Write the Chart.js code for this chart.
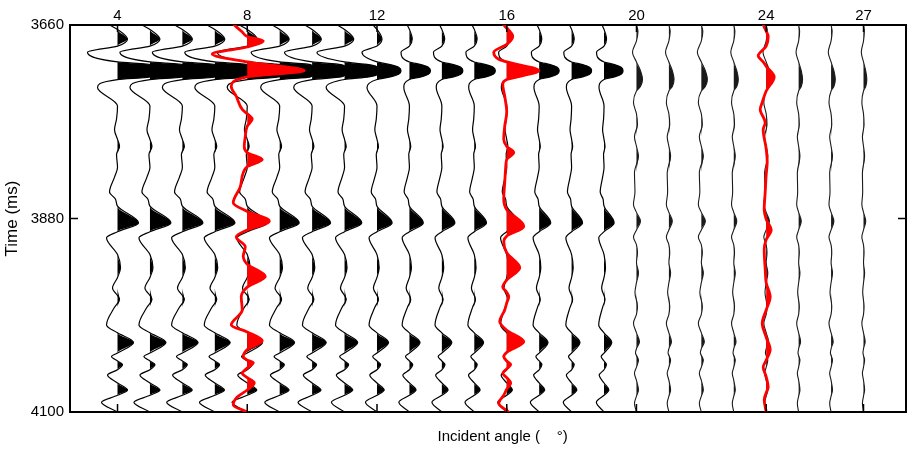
<!DOCTYPE html>
<html>
<head>
<meta charset="utf-8">
<title>Incident angle gather</title>
<script src="https://cdn.jsdelivr.net/npm/chart.js@4.4.0/dist/chart.umd.min.js"></script>
<style>
  body { margin: 0; background: #fff; }
  #grafico { display: block; }
</style>
</head>
<body>
<canvas id="grafico" width="912" height="449"></canvas>
<script>
// ---------- data ----------
const xTickLabels = [4, 8, 12, 16, 20, 24, 27];
const yTickLabels = [3660, 3880, 4100];

// synthetic traces 4..19 (black), sampled at the wiggle extrema (ms)
const nearAngles = [4, 5, 6, 7, 8, 9, 10, 11, 12, 13, 14, 15, 16, 17, 18, 19];
const nearTimes = [3660, 3665, 3676, 3684, 3691, 3702, 3705, 3708, 3712, 3716,
                   3719, 3722, 3731, 3752, 3767, 3779, 3790, 3798, 3807, 3822,
                   3833, 3850, 3858, 3866, 3885, 3895, 3902, 3921, 3936, 3947,
                   3959, 3972, 3981, 4001, 4010, 4021, 4033, 4037, 4042, 4046,
                   4052, 4058, 4067, 4075, 4081, 4089, 4100];
// side lobes of the top event, main top lobe (normalised), deeper events
const sideShape = [-8, 0, 10, 0, -30, 0, 0, 0, 0, 0, 0, 0, -20, 0, 0, 0, 0, 0, 0, 0,
                   0, 0, 0, 0, 0, 0, 0, 0, 0, 0, 0, 0, 0, 0, 0, 0, 0, 0, 0, 0,
                   0, 0, 0, 0, 0, 0, 0];
const mainShape = [0, 0, 0, 0, 0, 0, 0.55, 0.9, 1, 0.9, 0.55, 0, 0, 0, 0, 0, 0, 0, 0, 0,
                   0, 0, 0, 0, 0, 0, 0, 0, 0, 0, 0, 0, 0, 0, 0, 0, 0, 0, 0, 0,
                   0, 0, 0, 0, 0, 0, 0];
const deepShape = [0, 0, 0, 0, 0, 0, 0, 0, 0, 0, 0, 0, 0, 0, -1, -3, 0, 2, -1, 0,
                   -3, -8, -2, 0, 21, 0, -11, 0, 3, 0, -5, 2, -3, -11, 0, 16, 0, -6, 0, 5,
                   0, -10, 0, 10, 0, -16, 0];
const mainPeak = [62, 62, 60, 60, 58, 56, 52, 44, 24, 21, 21, 21, 21, 20, 20, 19];
const sideGain = [1, 1, 1, 1, 1, 0.95, 0.92, 0.92, 0.5, 0.28, 0.28, 0.28, 0.27, 0.26, 0.26, 0.25];
const deepGain = [1, 1, 0.98, 0.96, 0.95, 0.93, 0.88, 0.82, 0.72, 0.66, 0.62, 0.58, 0.56, 0.55, 0.52, 0.48];

// synthetic traces 20..27 (black, weak)
const farAngles = [20, 21, 22, 23, 24, 25, 26, 27];
const farTimes = [3660, 3667, 3678, 3691, 3702, 3712, 3722, 3730, 3735, 3748,
                  3761, 3773, 3787, 3798, 3809, 3828, 3850, 3864, 3873, 3883,
                  3893, 3901, 3910, 3919, 3930, 3942, 3953, 3964, 3980, 3989,
                  3999, 4010, 4020, 4028, 4033, 4041, 4049, 4056, 4064, 4075,
                  4082, 4090, 4100];
const farShape = [0, 1.5, 0, -4, 0, 4, 6, 4, 0, -3,
                  0, 1, -2, 0, 2, -2, -1.5, -3, 0, 4,
                  0, -3, 0, 1, 0, 2, 0, -1.5, 1, 0,
                  -3, 0, 3, 0, -1, 2, 0, -2, 0, 2,
                  0, -2, 0];
const farGain = [1, 0.85, 1, 0.75, 0.8, 0.65, 0.7, 0.55];

// red traces at 8, 16 and 24 degrees
const red8Times = [3660, 3668, 3673, 3678, 3685, 3693, 3702, 3712, 3719, 3730,
                   3741, 3756, 3761, 3767, 3775, 3787, 3798, 3805, 3813, 3821,
                   3828, 3844, 3862, 3872, 3883, 3893, 3901, 3912, 3923, 3932,
                   3946, 3958, 3969, 3984, 4001, 4009, 4019, 4029, 4037, 4041,
                   4044, 4050, 4056, 4061, 4067, 4075, 4083, 4092, 4100];
const red8Amp = [-13, -5, 0, 16, 0, -35, 0, 57, 0, -16,
                 -11, -5, 0, 5, 0, -2, -3, 0, 15, 0,
                 -4, -7, -14, 0, 22, 0, -11, -2, -4, 0,
                 18, 0, -6, -5, -16, 0, 15, 0, -4, 0,
                 6, 0, -5, 0, 7, 0, -10, -14, 0];
const red16Times = [3660, 3673, 3682, 3691, 3699, 3702, 3712, 3722, 3727, 3741,
                    3759, 3775, 3790, 3798, 3805, 3813, 3821, 3839, 3858, 3870,
                    3889, 3900, 3906, 3919, 3936, 3950, 3958, 3964, 3969, 3976,
                    3984, 3997, 4007, 4020, 4032, 4037, 4042, 4046, 4051, 4056,
                    4061, 4067, 4074, 4081, 4090, 4100];
const red16Amp = [-3, 6, 0, -13, -8, 0, 32, 0, -4, -2,
                  0, -2, -3, 0, 7, 0, -1, -2, -3, 0,
                  17, 0, -3, 0, 13, 0, -4, 0, 2, 0,
                  -2, -7, 0, 17, 0, -3, 0, 4, 0, -4,
                  0, 4, 0, -3, -8, 2];
const red24Times = [3660, 3667, 3673, 3684, 3695, 3702, 3707, 3719, 3735, 3748,
                    3756, 3771, 3779, 3801, 3816, 3830, 3850, 3870, 3881, 3893,
                    3904, 3915, 3938, 3953, 3969, 3984, 3999, 4015, 4029, 4041,
                    4049, 4060, 4072, 4078, 4086, 4100];
const red24Amp = [-3, 0, 2, 0, -8, -3, 0, 8, 0, -4,
                  -6, -1, -3, 0, 1, 0, -1, -2, 0, 5,
                  0, -2, -1, 0, 4, 0, -4, 0, 4, 0,
                  -3, 0, 2, 0, -2, 0];

// ---------- display settings ----------
const ampToDeg = 1 / 32.4;   // amplitude units -> degrees of offset
const clipAmp = 33;          // black traces are clipped at about one trace spacing
const fuente = "'Liberation Sans', Arial, sans-serif";

let datasets = [];

// each trace = one filled dataset (positive part) + one wiggle line
function agregarTraza(angulo, tiempos, amps, color, ancho, orden, recortar) {
  let linea = [];
  let relleno = [];
  for (let i = 0; i < tiempos.length; i++) {
    let a = amps[i];
    if (recortar) a = Math.min(a, clipAmp);
    linea.push({ x: angulo + a * ampToDeg, y: tiempos[i] });
    relleno.push({ x: angulo + Math.max(a, 0) * ampToDeg, y: tiempos[i] });
  }
  datasets.push({
    data: relleno, xAxisID: "x", yAxisID: "y",
    fill: { value: angulo }, backgroundColor: color,
    borderColor: "rgba(0,0,0,0)", borderWidth: 0, order: orden + 1
  });
  datasets.push({
    data: linea, xAxisID: "x", yAxisID: "y",
    fill: false, borderColor: color, borderWidth: ancho, order: orden
  });
}

nearAngles.forEach((ang, n) => {
  let amps = nearTimes.map((t, i) =>
    sideShape[i] * sideGain[n] + mainShape[i] * mainPeak[n] + deepShape[i] * deepGain[n]);
  agregarTraza(ang, nearTimes, amps, "#000", 1.2, 2, true);
});

farAngles.forEach((ang, n) => {
  let amps = farShape.map(v => v * farGain[n]);
  agregarTraza(ang, farTimes, amps, "#1a1a1a", 1.1, 2, true);
});

agregarTraza(8, red8Times, red8Amp, "#ff0000", 2.8, 0, false);
agregarTraza(16, red16Times, red16Amp, "#ff0000", 2.8, 0, false);
agregarTraza(24, red24Times, red24Amp, "#ff0000", 2.8, 0, false);

// short tick marks pointing into the plot, like the original
const marcasInternas = {
  id: "marcasInternas",
  afterDatasetsDraw(chart) {
    const ctx = chart.ctx;
    const area = chart.chartArea;
    const sx = chart.scales.x;
    const sy = chart.scales.y;
    ctx.save();
    ctx.strokeStyle = "#000";
    ctx.lineWidth = 1.5;
    ctx.beginPath();
    xTickLabels.forEach(v => {
      const px = sx.getPixelForValue(v);
      ctx.moveTo(px, area.top); ctx.lineTo(px, area.top + 7);
      ctx.moveTo(px, area.bottom); ctx.lineTo(px, area.bottom - 8);
    });
    yTickLabels.forEach(v => {
      const py = sy.getPixelForValue(v);
      ctx.moveTo(area.left, py); ctx.lineTo(area.left + 8, py);
      ctx.moveTo(area.right, py); ctx.lineTo(area.right - 8, py);
    });
    ctx.stroke();
    ctx.restore();
  }
};

const xMin = 2.535, xMax = 28.31;
const borde = { display: true, color: "#000", width: 2 };
const sinRejilla = { display: false, drawTicks: false };
const ticksX = s => { s.ticks = xTickLabels.map(v => ({ value: v })); };
const ticksY = s => { s.ticks = yTickLabels.map(v => ({ value: v })); };
const sinComas = v => String(v);

new Chart("grafico", {
  type: "line",
  data: { datasets: datasets },
  plugins: [marcasInternas],
  options: {
    indexAxis: "y",
    responsive: false,
    animation: false,
    events: [],
    layout: { padding: 0 },
    elements: {
      point: { radius: 0 },
      line: { cubicInterpolationMode: "monotone", borderJoinStyle: "round", borderCapStyle: "round" }
    },
    plugins: { legend: { display: false }, tooltip: { enabled: false } },
    scales: {
      x: {
        type: "linear", position: "top", min: xMin, max: xMax,
        afterBuildTicks: ticksX,
        afterFit: s => { s.height = 25; },
        grid: sinRejilla, border: borde,
        ticks: { color: "#000", font: { family: fuente, size: 15 }, padding: 0,
                 autoSkip: false, maxRotation: 0, callback: sinComas }
      },
      x2: {
        type: "linear", position: "bottom", min: xMin, max: xMax,
        afterBuildTicks: ticksX,
        afterFit: s => { s.height = 37; },
        grid: sinRejilla, border: borde,
        ticks: { display: false },
        title: {
          display: true, text: "       Incident angle (    °)", color: "#000",
          font: { family: fuente, size: 15 }, padding: { top: 0, bottom: 3 }
        }
      },
      y: {
        type: "linear", position: "left", reverse: true, min: 3660, max: 4100,
        afterBuildTicks: ticksY,
        afterFit: s => { s.width = 70; },
        grid: sinRejilla, border: borde,
        ticks: { color: "#000", font: { family: fuente, size: 15 }, padding: 6,
                 autoSkip: false, callback: sinComas },
        title: {
          display: true, text: "Time (ms)", color: "#000",
          font: { family: fuente, size: 17 }, padding: { top: 2, bottom: 0 }
        }
      },
      y2: {
        type: "linear", position: "right", reverse: true, min: 3660, max: 4100,
        afterBuildTicks: ticksY,
        afterFit: s => { s.width = 6; },
        grid: sinRejilla, border: borde,
        ticks: { display: false }
      }
    }
  }
});
</script>
</body>
</html>
